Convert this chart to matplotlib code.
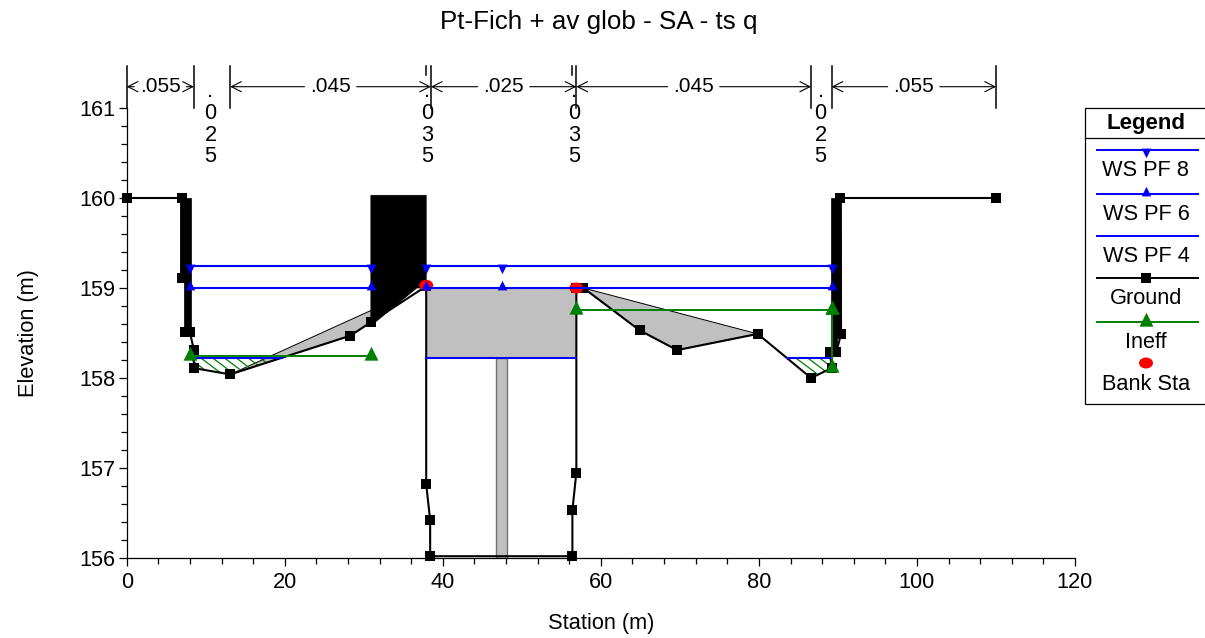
import numpy as np
import matplotlib
matplotlib.use('Agg')
import matplotlib.pyplot as plt
from matplotlib.patches import Polygon, Ellipse, Rectangle
from matplotlib.path import Path

plt.rcParams['font.family'] = ['Liberation Sans', 'DejaVu Sans']
FS = 15.7

# ground profile
ground_x = [0, 6.94, 6.94, 7.4, 7.4, 8.0, 8.5, 8.5, 13.1, 28.3, 30.9, 37.9, 37.9, 38.4, 38.4,
            56.4, 56.4, 56.9, 56.9, 57.8, 64.9, 69.65, 79.85, 86.6, 89.2, 89.0, 89.8, 90.4, 90.3, 110]
ground_y = [160, 160, 159.11, 159.11, 158.51, 158.51, 158.31, 158.11, 158.04, 158.47, 158.62, 159.02, 156.82, 156.42, 156.02,
            156.02, 156.53, 156.95, 159.0, 159.0, 158.53, 158.31, 158.49, 158.0, 158.11, 158.29, 158.29, 158.49, 160, 160]

# water surfaces
ws8_x = [[8.0, 30.9], [37.9, 47.5, 89.2]]
ws8_y = 159.24
ws6_x = [[8.0, 30.9], [37.9, 47.5, 89.2]]
ws6_y = 159.0
ws4_x = [[8.3, 19.6], [37.9, 56.9], [83.5, 89.2]]
ws4_y = 158.22

# ineffective flow
ineff_x = [[8.0, 30.9], [56.9, 89.2], [89.2, 89.2]]
ineff_y = [[158.24, 158.24], [158.76, 158.76], [158.76, 158.11]]

bank_x = [37.9, 56.9]
bank_y = [159.03, 159.0]

# blocked obstructions (black)
blocks = [
    [(6.75, 160), (8.1, 160), (8.1, 158.51), (7.35, 158.51), (7.35, 159.1), (6.75, 159.1)],
    [(30.9, 160.03), (37.9, 160.03), (37.9, 159.0), (36.7, 159.0), (30.9, 158.58)],
    [(89.1, 160), (90.4, 160), (90.4, 158.49), (89.85, 158.49), (89.85, 158.29), (89.1, 158.29)],
]
# grey fills
greys = [
    [(13.1, 158.04), (30.9, 158.75), (30.9, 158.62), (28.3, 158.47)],
    [(37.9, 159.0), (56.9, 159.0), (56.9, 158.22), (37.9, 158.22)],
    [(57.8, 159.0), (79.85, 158.49), (69.65, 158.31), (64.9, 158.53)],
]
pier_x = [46.75, 48.1]
pier_y = [156.0, 158.22]

# ineffective hatched areas
hatched = [
    [(8.2, 158.22), (19.0, 158.22), (13.1, 158.04), (8.5, 158.11)],
    [(83.5, 158.22), (89.2, 158.22), (89.2, 158.11), (86.6, 158.0)],
]

# manning n values along the top
n_edges = [0, 8.5, 13.1, 38.5, 56.9, 86.6, 89.2, 110]
n_labels = ['.055', '.025', '.045', '.025', '.045', '.025', '.055']
n_narrow = ['.025', '.035', '.035', '.025']
n_narrow_x = [10.6, 38.05, 56.6, 87.8]
n_extra_x = [37.9, 56.3]

fig = plt.figure(figsize=(12.05, 6.38), dpi=100)
ax = fig.add_axes([126.7 / 1205, 80 / 638, (1075 - 126.7) / 1205, 450 / 638])
ax.set_xlim(0, 120)
ax.set_ylim(156, 161)
ax.patch.set_alpha(0)
for s in ['top', 'right']:
    ax.spines[s].set_visible(False)
for s in ['left', 'bottom']:
    ax.spines[s].set_linewidth(0.9)

ax.set_xticks(np.arange(0, 121, 20))
ax.set_xticks(np.arange(0, 121, 4), minor=True)
ax.set_yticks(np.arange(156, 162, 1))
ax.set_yticks(np.arange(156, 161.1, 0.2), minor=True)
ax.tick_params(axis='both', which='major', length=6, width=0.9, labelsize=FS, pad=2)
ax.tick_params(axis='x', which='major', pad=4)
ax.tick_params(axis='both', which='minor', length=4.5, width=0.9)

for b in blocks:
    ax.add_patch(Polygon(b, closed=True, fc='black', ec='black', lw=0.5, zorder=2))
for g in greys:
    ax.add_patch(Polygon(g, closed=True, fc='#c0c0c0', ec='black', lw=0.7, zorder=2))
ax.add_patch(Rectangle((pier_x[0], pier_y[0]), pier_x[1] - pier_x[0], pier_y[1] - pier_y[0],
                       fc='#c0c0c0', ec='#707070', lw=1.0, zorder=2))

# hatch lines, clipped to the area
for h in hatched:
    clip = Polygon(h, closed=True, fc='none', ec='none', transform=ax.transData)
    ax.add_patch(clip)
    xs = [p[0] for p in h]
    for x0 in np.arange(min(xs) - 3, max(xs) + 3, 1.5):
        ln, = ax.plot([x0, x0 + 4], [158.3, 158.3 - 3 * 7.904 / 90], color='green', lw=0.9, zorder=2)
        ln.set_clip_path(clip)

tri_dn = Path([(-0.5, 0.2), (0.5, 0.2), (0, -0.8), (-0.5, 0.2)], closed=True)
tri_up = Path([(-0.5, -0.2), (0.5, -0.2), (0, 0.8), (-0.5, -0.2)], closed=True)
tri_big = Path([(-0.5, -0.3), (0.5, -0.3), (0, 0.7), (-0.5, -0.3)], closed=True)

ax.plot(ground_x, ground_y, color='black', lw=1.5, marker='s', ms=7, mew=0, zorder=4, clip_on=False)

for x, y in zip(bank_x, bank_y):
    ax.add_patch(Ellipse((x, y), 14 / 7.904, 11 / 90, fc='red', ec='none', zorder=5))

for xs in ws8_x:
    ax.plot(xs, [ws8_y] * len(xs), color='blue', lw=1.5, marker=tri_dn, ms=11, mew=0, zorder=6)
for xs in ws6_x:
    ax.plot(xs, [ws6_y] * len(xs), color='blue', lw=1.5, marker=tri_up, ms=11, mew=0, zorder=6)
for xs in ws4_x:
    ax.plot(xs, [ws4_y] * len(xs), color='blue', lw=1.5, zorder=6)
for xs, ys in zip(ineff_x, ineff_y):
    ax.plot(xs, ys, color='green', lw=1.4, marker=tri_big, ms=14, mew=0, zorder=7)

# n value bars and arrows, in data x and pixels above the axes top
tr = ax.get_xaxis_transform()
bar_top = 1 + 42 / 450
arrow_y = 1 + 21.3 / 450
for x in n_edges:
    ax.plot([x, x], [1, bar_top], transform=tr, color='black', lw=1.1, clip_on=False)
for x in n_extra_x:
    ax.plot([x, x], [1 + 33 / 450, bar_top], transform=tr, color='black', lw=1.1, clip_on=False)

style = '->,head_length=0.55,head_width=0.28'
i_wide = [0, 2, 3, 4, 6]
half = 3.3
for i, lab in enumerate(n_labels):
    if i not in i_wide:
        continue
    x0, x1 = n_edges[i], n_edges[i + 1]
    mid = (x0 + x1) / 2
    ax.text(mid, arrow_y, lab, transform=tr, ha='center', va='center', fontsize=15, clip_on=False)
    for a, b in [(mid - half, x0), (mid + half, x1)]:
        ax.annotate('', xy=(b, arrow_y), xytext=(a, arrow_y), xycoords=tr, textcoords=tr,
                    arrowprops=dict(arrowstyle=style, color='black', lw=0.8, shrinkA=0, shrinkB=0,
                                    mutation_scale=13))
# narrow panels get a stacked label
for x, lab in zip(n_narrow_x, n_narrow):
    ax.text(x, 1 + 27 / 450, '\n'.join(lab), transform=tr, ha='center', va='top', fontsize=FS,
            linespacing=1.05, clip_on=False)

fig.text(599 / 1205, 1 - 22.5 / 638, 'Pt-Fich + av glob - SA - ts q', ha='center', va='center', fontsize=18.7)
fig.text(601 / 1205, 1 - 623.5 / 638, 'Station (m)', ha='center', va='center', fontsize=FS)
fig.text(28.5 / 1205, 1 - 333 / 638, 'Elevation (m)', ha='center', va='center', rotation=90, fontsize=FS)

# legend, laid out in figure pixels
leg = fig.add_axes([0, 0, 1, 1])
leg.set_xlim(0, 1205)
leg.set_ylim(638, 0)
leg.axis('off')
leg.patch.set_alpha(0)
leg.add_patch(Rectangle((1085, 108), 130, 296, fc='white', ec='black', lw=0.9))
leg.plot([1085, 1205], [138, 138], color='black', lw=0.9)
leg.text(1146, 123, 'Legend', ha='center', va='center', fontsize=16, fontweight='bold')
entries = [('WS PF 8', 'blue', tri_dn, 11, 150), ('WS PF 6', 'blue', tri_up, 11, 194),
           ('WS PF 4', 'blue', None, 0, 236), ('Ground', 'black', 's', 7, 278),
           ('Ineff', 'green', tri_big, 14, 322)]
for name, col, mk, ms, y in entries:
    leg.plot([1097, 1198], [y, y], color=col, lw=1.4)
    if mk is not None:
        leg.plot([1146], [y], color=col, marker=mk, ms=ms, mew=0)
    leg.text(1146, y + 21, name, ha='center', va='center', fontsize=FS)
leg.add_patch(Ellipse((1146, 363), 14, 11, fc='red', ec='none'))
leg.text(1146, 384, 'Bank Sta', ha='center', va='center', fontsize=FS)

fig.savefig('out.png', dpi=100)
